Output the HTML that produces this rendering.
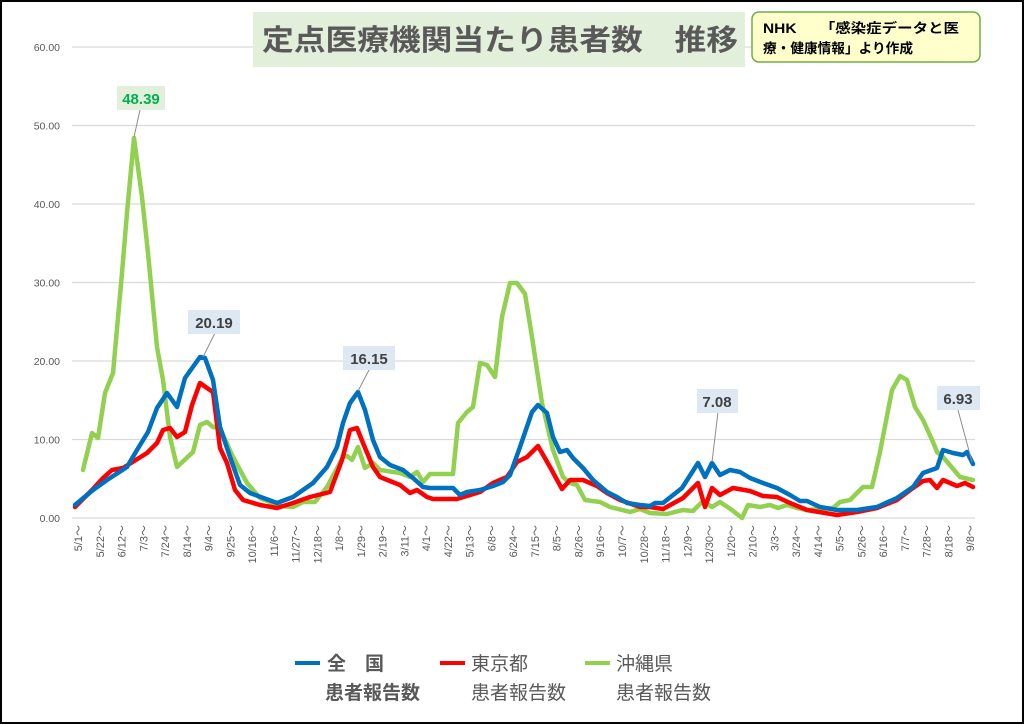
<!DOCTYPE html>
<html><head><meta charset="utf-8"><style>
body{margin:0;background:#fff;}
svg{display:block;font-family:"Liberation Sans","Noto Sans CJK JP",sans-serif;}
</style></head><body>
<svg width="1024" height="724" viewBox="0 0 1024 724" xmlns="http://www.w3.org/2000/svg">
<rect x="1" y="1" width="1022" height="722" fill="#fff" stroke="#000" stroke-width="2"/>
<g stroke="#d9d9d9" stroke-width="1.3">
<line x1="72" x2="975" y1="47" y2="47"/><line x1="72" x2="975" y1="125.5" y2="125.5"/>
<line x1="72" x2="975" y1="204" y2="204"/><line x1="72" x2="975" y1="282.5" y2="282.5"/>
<line x1="72" x2="975" y1="361" y2="361"/><line x1="72" x2="975" y1="439.5" y2="439.5"/>
<line x1="72" x2="975" y1="518" y2="518"/>
</g>
<g font-size="10.5" fill="#595959" text-anchor="end">
<text x="60" y="51">60.00</text><text x="60" y="129.5">50.00</text><text x="60" y="208">40.00</text>
<text x="60" y="286.5">30.00</text><text x="60" y="365">20.00</text><text x="60" y="443.5">10.00</text><text x="60" y="522">0.00</text>
</g>
<g id="xl" font-size="11" fill="#595959" text-anchor="end"></g>
<g fill="none" stroke-width="4.5" stroke-linejoin="round" stroke-linecap="round">
<polyline stroke="#92d050" points="83,470 92,433 98,438 105,393 113,373 122,273 127,213 134,138 142,197 148,253 157,347 163,380 170,437 177,467 193,452 200,425 207,422 213,427 220,428 233,457 247,483 260,498 280,506 293,507 303,502 315,502 327,487 343,457 347,456 352,460 358,447 365,468 373,463 380,470 400,473 410,477 417,472 423,482 430,474 453,474 458,423 467,412 473,407 480,363 487,365 495,377 502,317 510,283 517,283 525,294 532,337 542,403 553,450 563,477 570,483 577,485 585,500 600,502 610,507 630,512 640,509 650,513 667,514 683,510 693,511 703,501 712,507 720,502 732,510 742,518 748,505 760,507 770,505 778,508 787,505 797,508 807,510 833,508 840,502 850,500 863,487 872,487 880,452 892,390 900,376 907,380 915,407 923,420 933,442 937,452 943,457 960,477 973,480"/>
<polyline stroke="#ff0000" points="75,507 92,490 103,478 112,470 123,468 147,453 157,443 163,430 170,428 177,437 185,432 192,405 200,383 207,388 213,392 220,448 227,463 235,490 243,500 260,505 277,508 293,503 310,497 330,492 342,460 350,430 357,428 363,443 373,467 380,477 400,485 410,493 417,490 427,497 433,499 457,499 467,496 480,492 493,483 507,477 517,462 527,457 538,446 550,467 562,489 570,480 583,480 597,486 607,493 620,500 640,507 650,507 663,509 683,498 698,483 705,507 712,488 720,495 733,488 750,491 763,496 777,497 790,503 807,510 837,515 857,512 877,508 897,500 913,488 923,481 930,480 937,488 943,480 957,486 965,483 973,487"/>
<polyline stroke="#0070c0" points="75,505 93,490 107,480 127,467 137,450 148,432 157,408 167,393 177,407 185,378 200,357 205,358 213,380 220,427 230,457 240,485 250,493 277,503 293,497 313,483 327,467 337,447 343,423 350,403 358,392 365,410 373,440 380,457 390,465 403,470 413,478 423,487 430,488 453,488 460,495 467,492 480,490 493,486 503,482 510,475 520,447 532,412 538,405 547,413 553,437 560,452 567,450 573,458 583,468 593,480 607,492 617,497 627,503 640,505 650,506 655,503 663,503 682,488 698,463 705,477 712,463 720,475 730,470 740,472 750,478 763,483 777,488 790,495 800,501 807,501 820,507 837,510 857,510 877,507 897,498 913,487 923,473 937,468 943,450 953,453 963,455 967,452 973,464"/>
</g>
<g stroke="#8c8c8c" stroke-width="1">
<line x1="140" y1="110" x2="134" y2="137"/><line x1="215" y1="333" x2="203" y2="357"/>
<line x1="369" y1="370" x2="358" y2="391"/><line x1="718" y1="412" x2="712" y2="462"/><line x1="958" y1="410" x2="972" y2="462"/>
</g>
<rect x="117" y="86" width="48" height="24" fill="#e2efda"/>
<text x="141" y="104" font-size="15" font-weight="bold" fill="#00b050" text-anchor="middle">48.39</text>
<g fill="#dde8f3"><rect x="188" y="310" width="52" height="24"/><rect x="343" y="346" width="52" height="24"/><rect x="697" y="389" width="41" height="24"/><rect x="937" y="386" width="43" height="24"/></g>
<g font-size="15" font-weight="bold" fill="#404040" text-anchor="middle">
<text x="214" y="328">20.19</text><text x="369" y="364">16.15</text><text x="717" y="407">7.08</text><text x="958" y="404">6.93</text>
</g>
<rect x="253" y="12" width="492" height="55" fill="#e2efda"/>
<text x="262" y="50" font-size="29" font-weight="bold" fill="#595959" textLength="476" lengthAdjust="spacingAndGlyphs">定点医療機関当たり患者数　推移</text>
<rect x="752" y="12" width="228" height="50" rx="7" fill="#ffffcc" stroke="#70ad47" stroke-width="1.5"/>
<text x="763" y="33" font-size="13.5" font-weight="bold" fill="#000" textLength="196" lengthAdjust="spacingAndGlyphs">NHK　　「感染症データと医</text>
<text x="763" y="53" font-size="13.5" font-weight="bold" fill="#000" textLength="150" lengthAdjust="spacingAndGlyphs">療・健康情報」より作成</text>
<g stroke-width="4"><line x1="295" y1="663" x2="320" y2="663" stroke="#0070c0"/><line x1="440" y1="663" x2="465" y2="663" stroke="#ff0000"/><line x1="585" y1="663" x2="610" y2="663" stroke="#92d050"/></g>
<g font-size="19" fill="#595959">
<text x="327" y="670" font-weight="bold">全　国</text><text x="471" y="670">東京都</text><text x="616" y="670">沖縄県</text>
<text x="325" y="699" font-weight="bold">患者報告数</text><text x="471" y="699">患者報告数</text><text x="616" y="699">患者報告数</text>
</g>
</svg>
<script>
var L="5/1 5/22 6/12 7/3 7/24 8/14 9/4 9/25 10/16 11/6 11/27 12/18 1/8 1/29 2/19 3/11 4/1 4/22 5/13 6/8 6/24 7/15 8/5 8/26 9/16 10/7 10/28 11/18 12/9 12/30 1/20 2/10 3/3 3/24 4/14 5/5 5/26 6/16 7/7 7/28 8/18 9/8".split(" ");
var g=document.getElementById("xl"),s="";
for(var i=0;i<L.length;i++){var x=78+i*21.76+4;s+='<text transform="translate('+x.toFixed(1)+',525) rotate(-90)">'+L[i]+'～</text>';}
g.innerHTML=s;
</script>
</body></html>
